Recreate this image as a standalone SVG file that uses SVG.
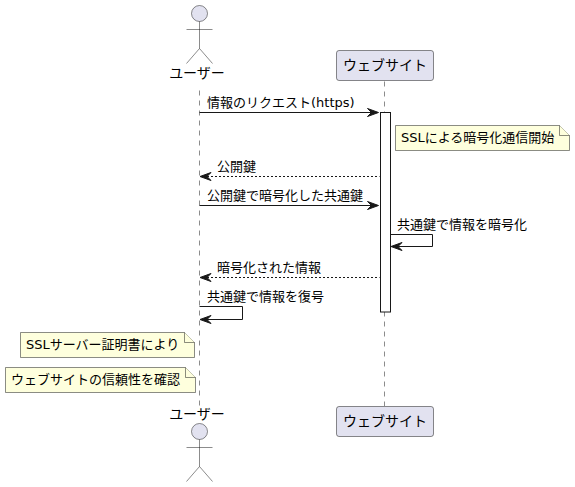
<svg xmlns="http://www.w3.org/2000/svg" width="575" height="487" viewBox="0 0 575 487">
<defs>
<style>
text{font-family:"DejaVu Sans","Noto Sans CJK JP",sans-serif;font-size:13px;fill:#000}
.actor{font-size:14px}
.life{stroke:#181818;stroke-width:.5;stroke-dasharray:5,5;fill:none}
.a{fill:#E2E2F0;stroke:#181818;stroke-width:.5}
.fig{fill:none;stroke:#181818;stroke-width:.5}
.note{fill:#FEFFDD;stroke:#181818;stroke-width:.5}
.m{fill:none;stroke:#181818;stroke-width:1}
.d{stroke-dasharray:2,2}
.ah{fill:#181818;stroke:#181818;stroke-width:1}
</style>
</defs>
<g id="connectors">
<line class="life" x1="199.5" y1="90.500" x2="199.5" y2="406"/>
<line class="life" x1="384.5" y1="81.500" x2="384.5" y2="406"/>
<line class="m" x1="199.5" y1="112.5" x2="375" y2="112.5"/><polygon class="ah" points="367.500,108.500 378.500,112.500 367.500,116.500 371.500,112.500"/>
<line class="m d" x1="203" y1="176.5" x2="379.5" y2="176.5"/><polygon class="ah" points="211,172.500 200,176.500 211,180.500 207,176.500"/>
<line class="m" x1="199.5" y1="205.5" x2="375" y2="205.5"/><polygon class="ah" points="367.500,201.500 378.500,205.500 367.500,209.500 371.500,205.500"/>
<path class="m" d="M390.5 234.5H432.500V246.500H394"/><polygon class="ah" points="402,242.500 391,246.500 402,250.500 398,246.500"/>
<line class="m d" x1="203" y1="277.500" x2="379.500" y2="277.500"/><polygon class="ah" points="211,273.500 200,277.500 211,281.500 207,277.500"/>
<path class="m" d="M199.500 306.500H242.500V319.500H203"/><polygon class="ah" points="211,315.500 200,319.500 211,323.500 207,319.500"/>
</g>
<g id="activation"><rect x="380.500" y="112.500" width="10" height="199.500" fill="#fff" stroke="#181818" stroke-width="1"/></g>
<g id="actor-top"><circle class="a" cx="199.500" cy="13.500" r="8"/><path class="fig" d="M199.500 21.500V48.500M186.500 29.500H212.500M186.500 63.500L199.500 48.500L212.500 63.500"/><text class="actor" x="197" y="78" text-anchor="middle">ユーザー</text></g>
<g id="actor-bottom"><circle class="a" cx="199.500" cy="431.500" r="8"/><path class="fig" d="M199.500 439.500V466.500M186.500 447.500H212.500M186.500 481.500L199.500 466.500L212.500 481.500"/><text class="actor" x="197" y="419" text-anchor="middle">ユーザー</text></g>
<g id="site-top"><rect class="a" x="336.500" y="50.500" width="97" height="30" rx="2.500"/><text class="actor" x="385" y="70" text-anchor="middle">ウェブサイト</text></g>
<g id="site-bottom"><rect class="a" x="336.500" y="406.500" width="97" height="30" rx="2.500"/><text class="actor" x="385" y="426" text-anchor="middle">ウェブサイト</text></g>
<g id="labels">
<text x="207" y="107">情報のリクエスト(https)</text>
<text x="217" y="171">公開鍵</text>
<text x="207" y="200">公開鍵で暗号化した共通鍵</text>
<text x="397" y="229">共通鍵で情報を暗号化</text>
<text x="217" y="272">暗号化された情報</text>
<text x="207" y="301">共通鍵で情報を復号</text>
</g>
<g id="note-ssl"><path class="note" d="M395.500 125.500H559.500L569.500 135.500V150.500H395.500Z"/><path class="note" d="M559.500 125.500V135.500H569.500"/><text x="401" y="142">SSLによる暗号化通信開始</text></g>
<g id="note-cert"><path class="note" d="M20.500 332.500H184.500L194.500 342.500V357.500H20.500Z"/><path class="note" d="M184.500 332.500V342.500H194.500"/><text x="26" y="349">SSLサーバー証明書により</text></g>
<g id="note-trust"><path class="note" d="M5.500 367.500H185.500L195.500 377.500V392.500H5.500Z"/><path class="note" d="M185.500 367.500V377.500H195.500"/><text x="11" y="384">ウェブサイトの信頼性を確認</text></g>
</svg>
